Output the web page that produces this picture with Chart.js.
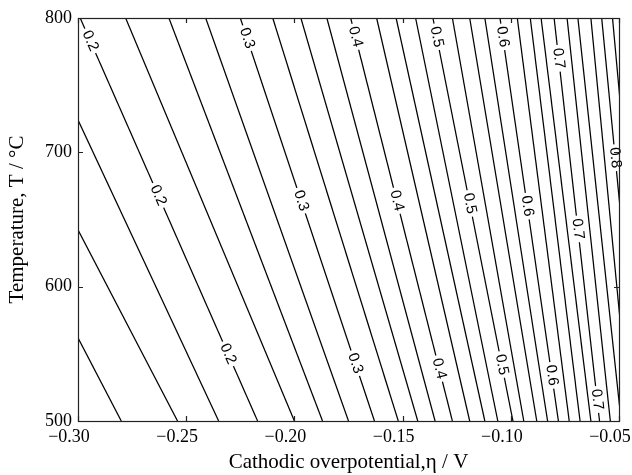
<!DOCTYPE html>
<html>
<head>
<meta charset="utf-8">
<script src="https://cdn.jsdelivr.net/npm/chart.js@4/dist/chart.umd.min.js"></script>
<style>
body { margin: 0; background: #fff; }
#wrap { width: 632px; height: 475px; }
</style>
</head>
<body>
<div id="wrap"><canvas id="contour_chart"></canvas></div>
<script>
// contour levels (step 0.025)
const levels = [0.125, 0.15, 0.175, 0.2, 0.225, 0.25, 0.275, 0.3, 0.325, 0.35, 0.375, 0.4, 0.425, 0.45, 0.475,
	0.5, 0.525, 0.55, 0.575, 0.6, 0.625, 0.65, 0.675, 0.7, 0.725, 0.75, 0.775, 0.8, 0.825];
// overpotential (V) where each contour line sits at T = 800 and at T = 500
const etaAt800 = [-0.377, -0.351, -0.322, -0.299, -0.278, -0.258, -0.241, -0.225, -0.210, -0.197, -0.185, -0.174, -0.162, -0.153, -0.144,
	-0.136, -0.127, -0.119, -0.112, -0.105, -0.097, -0.091, -0.086, -0.080, -0.074, -0.069, -0.063, -0.058, -0.053];
const etaAt500 = [-0.280, -0.254, -0.235, -0.217, -0.200, -0.187, -0.175, -0.163, -0.152, -0.143, -0.135, -0.127, -0.119, -0.112, -0.106,
	-0.099, -0.094, -0.088, -0.083, -0.078, -0.073, -0.068, -0.063, -0.059, -0.054, -0.049, -0.045, -0.040, -0.036];
// inline labels: which level and at what temperature
const labelLevels = [0.2, 0.2, 0.2, 0.3, 0.3, 0.3, 0.4, 0.4, 0.4, 0.5, 0.5, 0.5, 0.6, 0.6, 0.6, 0.7, 0.7, 0.7, 0.8];
const labelTemps = [783, 668, 550, 785, 664, 543, 786, 664, 539, 786, 662, 542, 786, 660, 534, 770, 643, 516, 696];
// axis ticks
const xTicks = [-0.30, -0.25, -0.20, -0.15, -0.10, -0.05];
const yTicks = [500, 600, 700, 800];

const labelFont = '15px "Liberation Sans", Arial, sans-serif';

// position + angle of a label along its line
function labelGeom(chart, k) {
	const i = levels.indexOf(labelLevels[k]);
	const xs = chart.scales.x, ys = chart.scales.y;
	const x1 = xs.getPixelForValue(etaAt800[i]), y1 = ys.getPixelForValue(800);
	const x2 = xs.getPixelForValue(etaAt500[i]), y2 = ys.getPixelForValue(500);
	const f = (800 - labelTemps[k]) / 300;
	return { i: i, x: x1 + (x2 - x1) * f, y: y1 + (y2 - y1) * f, a: Math.atan2(y2 - y1, x2 - x1) };
}

function boxPath(ctx, g, hw, hh) {
	const c = Math.cos(g.a), s = Math.sin(g.a);
	const pts = [[-hw, -hh], [hw, -hh], [hw, hh], [-hw, hh]].map(p => [g.x + p[0] * c - p[1] * s, g.y + p[0] * s + p[1] * c]);
	ctx.moveTo(pts[0][0], pts[0][1]);
	for (let j = 1; j < 4; j++) ctx.lineTo(pts[j][0], pts[j][1]);
	ctx.closePath();
}

const contourLabels = {
	id: 'contourLabels',
	// cut a gap in the line where its label goes
	beforeDatasetDraw(chart, args) {
		const ctx = chart.ctx;
		ctx.save();
		ctx.font = labelFont;
		ctx.beginPath();
		ctx.rect(0, 0, chart.width, chart.height);
		labelLevels.forEach((lv, k) => {
			const g = labelGeom(chart, k);
			if (g.i !== args.index) return;
			boxPath(ctx, g, ctx.measureText(String(lv)).width / 2 + 3, 6);
		});
		ctx.clip('evenodd');
	},
	afterDatasetDraw(chart) {
		chart.ctx.restore();
	},
	afterDatasetsDraw(chart) {
		const ctx = chart.ctx;
		ctx.save();
		ctx.font = labelFont;
		ctx.fillStyle = '#000';
		ctx.textAlign = 'center';
		ctx.textBaseline = 'middle';
		labelLevels.forEach((lv, k) => {
			const g = labelGeom(chart, k);
			ctx.save();
			ctx.translate(g.x, g.y);
			ctx.rotate(g.a);
			ctx.fillText(String(lv), 0, 0);
			ctx.restore();
		});
		ctx.restore();
	},
	// box + inward ticks on all four sides
	afterDraw(chart) {
		const ctx = chart.ctx, a = chart.chartArea;
		const xs = chart.scales.x, ys = chart.scales.y;
		ctx.save();
		ctx.strokeStyle = '#222';
		ctx.lineWidth = 1.2;
		ctx.beginPath();
		xTicks.forEach(v => {
			const px = Math.round(xs.getPixelForValue(v)) + 0.5;
			ctx.moveTo(px, a.bottom); ctx.lineTo(px, a.bottom - 5);
			ctx.moveTo(px, a.top); ctx.lineTo(px, a.top + 5);
		});
		yTicks.forEach(v => {
			const py = Math.round(ys.getPixelForValue(v)) + 0.5;
			ctx.moveTo(a.left, py); ctx.lineTo(a.left + 5, py);
			ctx.moveTo(a.right, py); ctx.lineTo(a.right - 5, py);
		});
		ctx.stroke();
		ctx.strokeRect(Math.round(a.left) + 0.5, Math.round(a.top) + 0.5, Math.round(a.right - a.left), Math.round(a.bottom - a.top));
		ctx.restore();
	}
};

const datasets = levels.map((lv, i) => ({
	label: String(lv),
	data: [{ x: etaAt800[i], y: 800 }, { x: etaAt500[i], y: 500 }],
	showLine: true,
	borderColor: '#000',
	borderWidth: 1.25,
	pointRadius: 0,
	fill: false
}));

const serif = '"Liberation Serif", "Times New Roman", serif';

new Chart(document.getElementById('contour_chart').getContext('2d'), {
	type: 'scatter',
	data: { datasets: datasets },
	options: {
		responsive: true,
		maintainAspectRatio: false,
		animation: false,
		events: [],
		layout: { padding: { top: 18, right: 13, left: 0, bottom: 0 } },
		plugins: { legend: { display: false }, tooltip: { enabled: false } },
		scales: {
			x: {
				type: 'linear',
				min: -0.30,
				max: -0.05,
				afterBuildTicks: s => { s.ticks = xTicks.map(v => ({ value: v })); },
				afterFit: s => { s.height = 54; s.paddingLeft = 0; s.paddingRight = 0; },
				grid: { display: false, drawTicks: false },
				border: { display: false },
				ticks: {
					color: '#000',
					padding: 5,
					labelOffset: -9,
					maxRotation: 0,
					font: { family: serif, size: 18 },
					callback: v => (v < 0 ? '\u2212' : '') + Math.abs(v).toFixed(2)
				},
				title: {
					display: true,
					text: 'Cathodic overpotential,\u03b7 / V',
					color: '#000',
					padding: { top: 0, bottom: 0 },
					font: { family: serif, size: 21 }
				}
			},
			y: {
				min: 500,
				max: 800,
				afterBuildTicks: s => { s.ticks = yTicks.map(v => ({ value: v })); },
				afterFit: s => { s.width = 78; s.paddingTop = 0; s.paddingBottom = 0; },
				grid: { display: false, drawTicks: false },
				border: { display: false },
				ticks: {
					color: '#000',
					padding: 6,
					font: { family: serif, size: 18 },
					callback: v => String(v)
				},
				title: {
					display: true,
					text: 'Temperature, T / \u00b0C',
					color: '#000',
					padding: { top: 5, bottom: 0 },
					font: { family: serif, size: 21 }
				}
			}
		}
	},
	plugins: [contourLabels]
});
</script>
</body>
</html>
